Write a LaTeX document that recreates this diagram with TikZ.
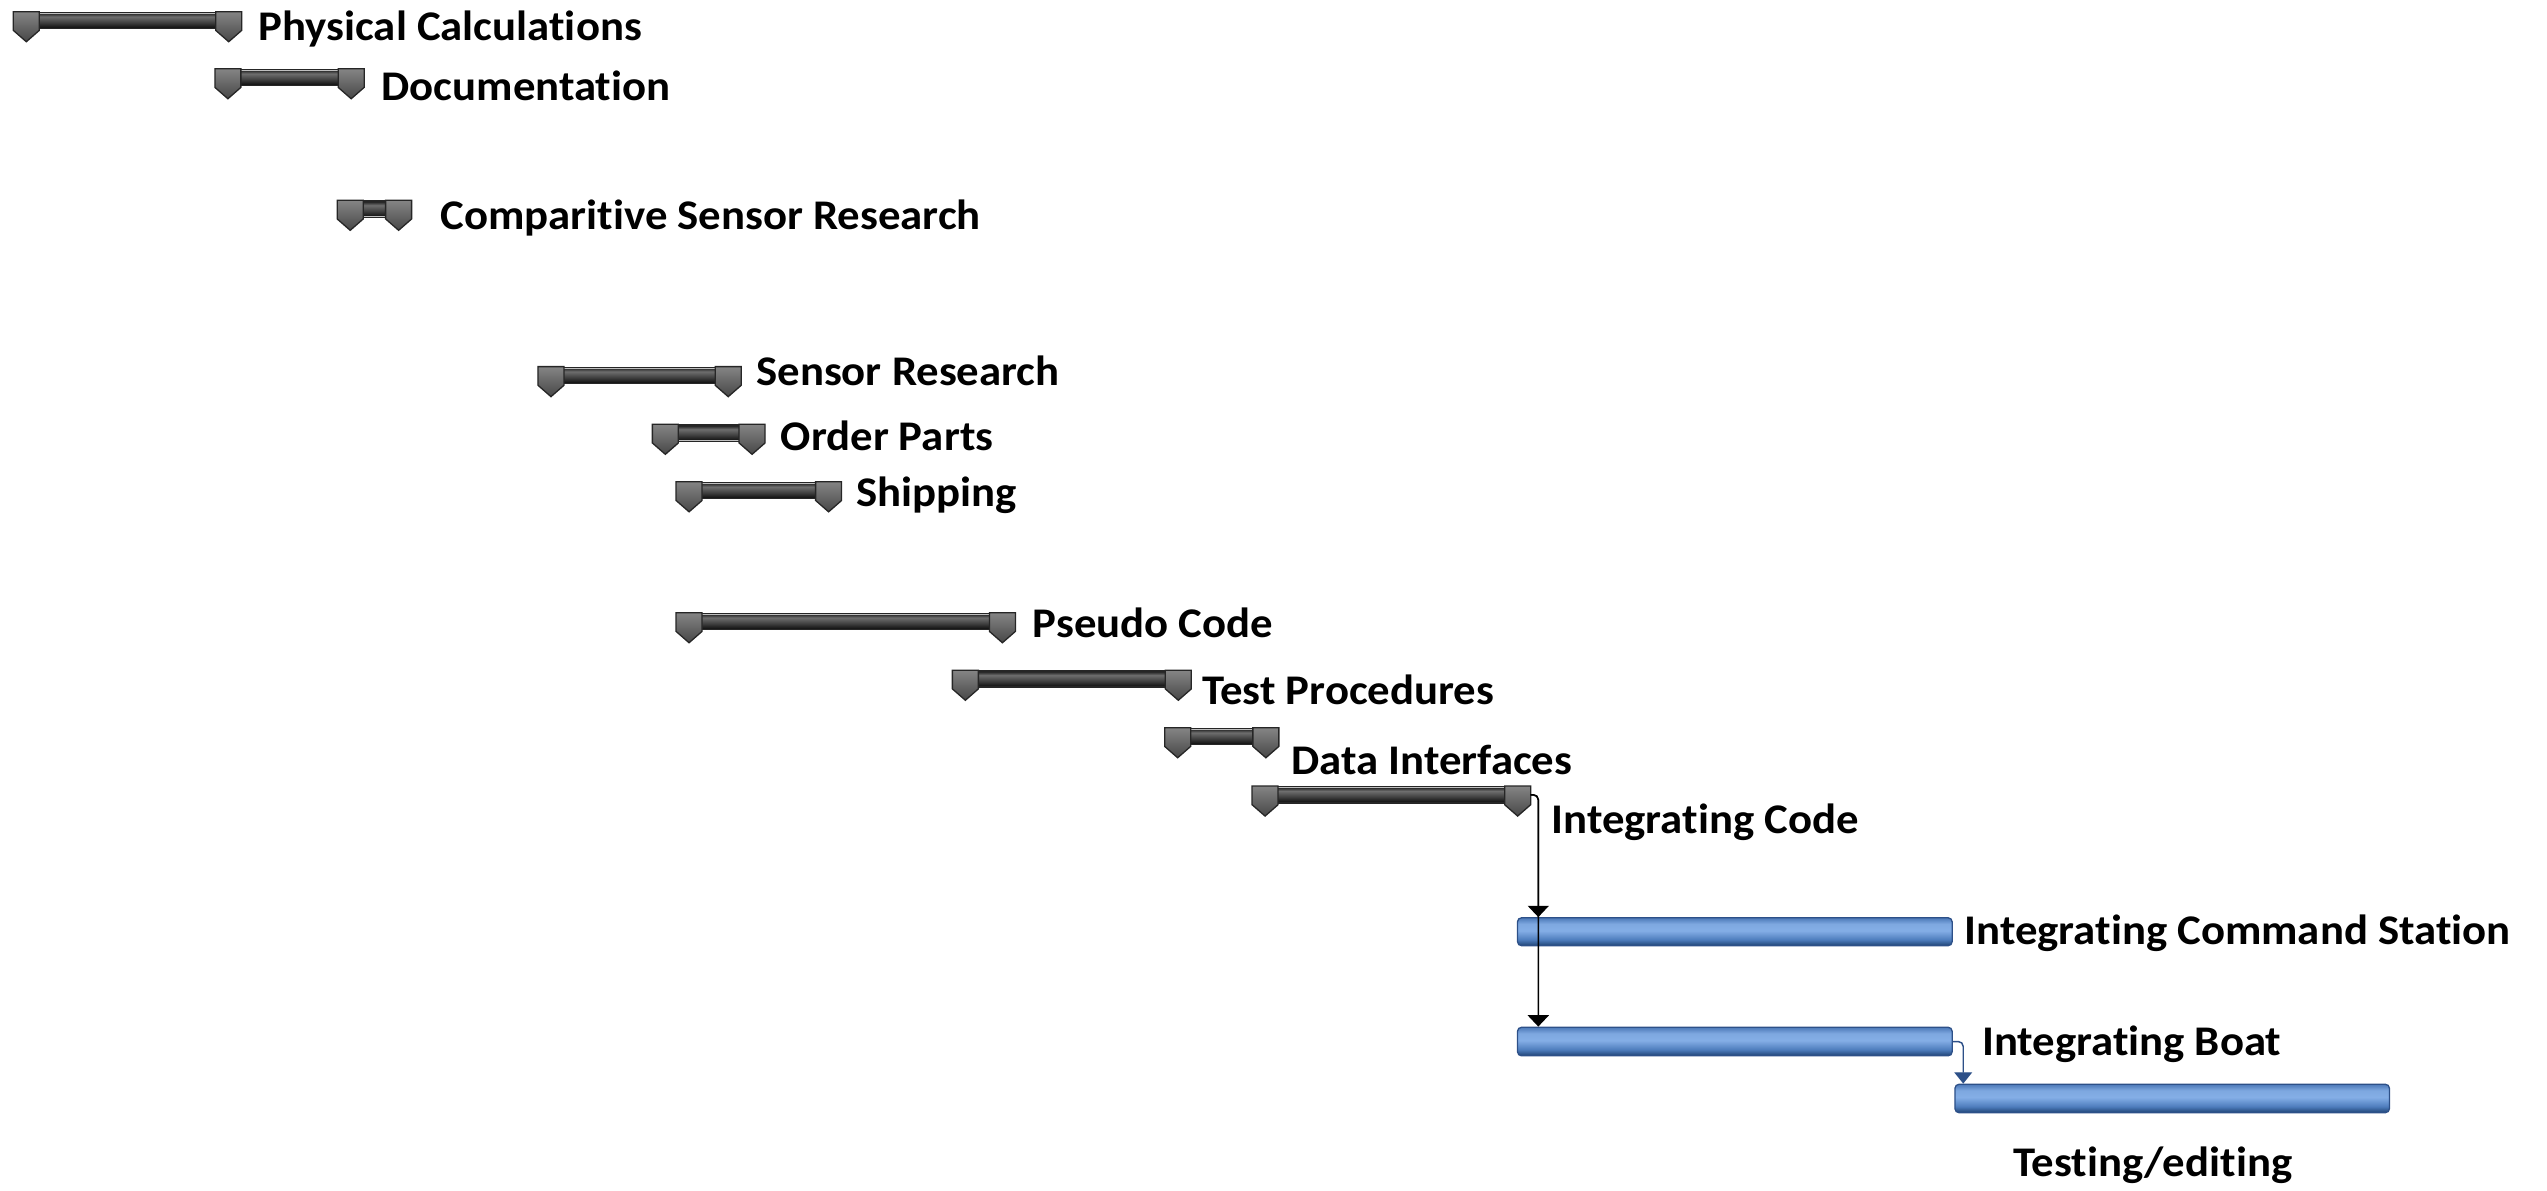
\documentclass[tikz,border=0pt]{standalone}
\usepackage{fontspec}
\setmainfont{Carlito}[FakeStretch=1.06, Ligatures=NoCommon, RawFeature=-liga, RawFeature=-clig]
\usetikzlibrary{fit,arrows.meta}
\definecolor{bdk}{HTML}{1F4374}
\definecolor{bmd}{HTML}{4E7DBD}
\definecolor{blt}{HTML}{84AEE6}
\definecolor{blt2}{HTML}{7EA8E0}
\definecolor{btp}{HTML}{4C79B8}
\definecolor{bline}{HTML}{2D5088}
\definecolor{gdk}{HTML}{151515}
\definecolor{gmd}{HTML}{3C3C3C}
\definecolor{glt}{HTML}{6E6E6E}
\pgfdeclareverticalshading{bluebar}{100bp}{color(0bp)=(bdk); color(25bp)=(bdk); color(36bp)=(bmd); color(52bp)=(blt); color(64bp)=(blt2); color(75bp)=(btp); color(100bp)=(btp)}
\pgfdeclareverticalshading{graybar}{100bp}{color(0bp)=(gdk); color(25bp)=(gdk); color(42bp)=(gmd); color(66bp)=(glt); color(75bp)=(gmd); color(100bp)=(gmd)}
\tikzset{
  lbl/.style={anchor=base west, inner sep=0pt, font=\fontsize{26}{30}\selectfont\bfseries, text=black},
  sumframe/.style={draw=black!85, fill=black!25, line width=0.8pt},
  sumcap/.style={draw=black!85, line width=0.8pt, top color=black!48, bottom color=black!72},
  bluetask/.style={shade, shading=bluebar, draw=bline, line width=0.8pt, rounded corners=2.5pt},
  conn/.style={draw=black, line width=0.9pt, rounded corners=3pt, -{Triangle[width=13pt,length=7pt]}},
  bconn/.style={draw=bline, line width=0.9pt, rounded corners=3pt, -{Triangle[width=11pt,length=7pt]}, color=bline}
}
\newcommand\sumbar[4]{%
  \node[fit={(#2,#4) (#3,#4+10)}, inner sep=0pt, sumframe] (#1) {};
  \shade[shading=graybar] (#2,#4+1.2) rectangle (#3,#4+9.2);
  \shade[sumcap] (#1.north west) -- ++(16,0) -- ++(0,11.5) -- ++(-8,7) -- ++(-8,-7) -- cycle;
  \shade[sumcap] (#1.north east) -- ++(-16,0) -- ++(0,11.5) -- ++(8,7) -- ++(8,-7) -- cycle;
}
\begin{document}
\begin{tikzpicture}[x=1pt,y=-1pt]
\useasboundingbox (0,0) rectangle (1568,733);
% summary bars
\sumbar{pc}{8.6}{148.4}{7.6}
\sumbar{doc}{132.7}{223.8}{42.7}
\sumbar{csr}{208}{253}{123.7}
\sumbar{sr}{331.6}{455.9}{226.1}
\sumbar{op}{402}{470.6}{261.6}
\sumbar{sh}{416.6}{517.7}{297}
\sumbar{ps}{416.6}{624.7}{377.6}
\sumbar{tp}{586.7}{733}{413}
\sumbar{di}{717.4}{786.9}{448.4}
\sumbar{ic}{771.2}{941.9}{484.3}
% blue tasks
\node[bluetask, fit={(934.2,565) (1201.8,582.2)}, inner sep=0pt] (ics) {};
\node[bluetask, fit={(934.2,632.4) (1201.8,650)}, inner sep=0pt] (ib) {};
\node[bluetask, fit={(1203.5,667.5) (1471,685)}, inner sep=0pt] (te) {};
% labels
\node[lbl] (lpc) at (159,25) {Physical Calculations};
\node[lbl] (ldoc) at (234.7,62) {Documentation};
\node[lbl] (lcsr) at (271,141.5) {Comparitive Sensor Research};
\node[lbl] (lsr) at (465.4,237.6) {Sensor Research};
\node[lbl] (lop) at (480.5,277.4) {Order Parts};
\node[lbl] (lsh) at (527,312) {Shipping};
\node[lbl] (lps) at (635.7,392.3) {Pseudo Code};
\node[lbl] (ltp) at (739.8,434) {Test Procedures};
\node[lbl] (ldi) at (794.8,477) {Data Interfaces};
\node[lbl] (lic) at (955,513) {Integrating Code};
\node[lbl] (lics) at (1209.2,581.7) {Integrating Command Station};
\node[lbl] (lib) at (1220,650) {Integrating Boat};
\node[lbl] (lte) at (1239.3,724.4) {Testing/editing};
% connectors
\draw[conn] (ic.east) -| ([xshift=13.2pt]ics.north west);
\draw[conn] (ic.east) -| ([xshift=13.2pt]ib.north west);
\draw[bconn] (ib.east) -| ([xshift=5.5pt]te.north west);
\end{tikzpicture}
\end{document}
